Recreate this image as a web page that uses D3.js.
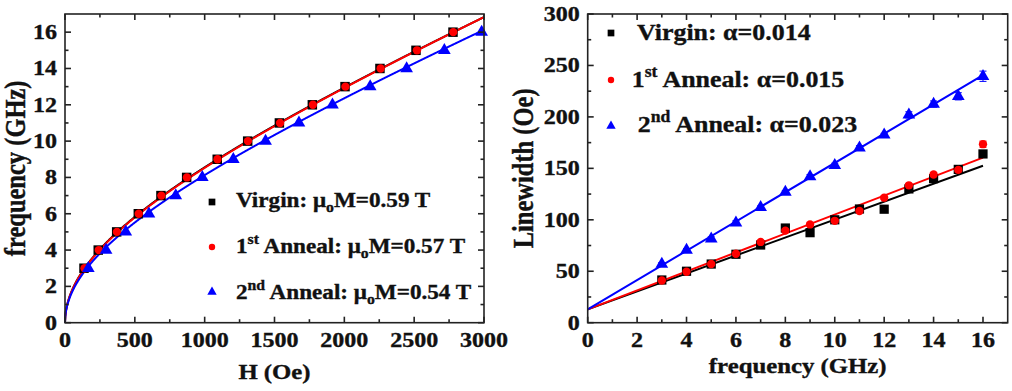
<!DOCTYPE html>
<html><head><meta charset="utf-8">
<script src="https://cdn.jsdelivr.net/npm/d3@7"></script>
<style>
body{margin:0;background:#fff}
svg{display:block}
text{font-family:"Liberation Serif","Times New Roman",serif;font-weight:bold;fill:#111;stroke:#111;stroke-width:0.35px}
</style>
</head><body>
<svg id="c" width="1012" height="391"></svg>
<script>
// ---------- Left panel data: resonance field H (Oe) at each frequency ----------
const freqGHz = [3,4,5,6,7,8,9,10,11,12,13,14,15,16];
const hVirgin  = [136,238,370,525,687,871,1090,1308,1535,1771,2005,2255,2513,2778];
const hAnneal1 = [140,242,372,528,690,873,1092,1310,1540,1775,2008,2260,2520,2780];
const hAnneal2 = [167,294,435,601,793,983,1205,1436,1675,1915,2185,2446,2716,2983];
// Kittel fit parameters: mu0*M (T) from legend, gyromagnetic ratio (GHz/Oe) of the fit
const fitMs    = [0.59, 0.57, 0.54];
const fitGamma = [0.003257, 0.003294, 0.003213];
const hTicks = [0,500,1000,1500,2000,2500,3000];
const fTicksL = [0,2,4,6,8,10,12,14,16];

// ---------- Right panel data: linewidth (Oe) vs frequency ----------
const lwVirgin  = [41.5,50,57,66.5,75.5,92,87.5,100,110.5,110.3,130,140,149,164];
const lwAnneal1 = [41,49.5,57,67,78.5,89.5,95.5,99,108.5,121.5,133.5,144,148.5,173.5];
const lwAnneal2 = [57,70.5,81.5,97,112,127,142,153,170,182.5,202,212.5,220,239.5];
const errVirgin  = [1,1,1,1,1,1,1,1,1,1,1,1,1,1.5];
const errAnneal1 = [1,1,1,1,1,1.5,1.5,1.5,1.5,1.5,1.5,2,2,3];
const errAnneal2 = [1.5,1.5,2,2,1.5,1.5,2,2,2,1.5,3,3,3.5,5];
const lwIntercept = [13,13,13];
const lwSlope     = [8.72,9.21,14.23];
const fTicksR = [0,2,4,6,8,10,12,14,16];
const lwTicks = [0,50,100,150,200,250,300];

const legendL = [
  [{t:"Virgin: μ"},{t:"o",sub:1},{t:"M=0.59 T"}],
  [{t:"1"},{t:"st",sup:1},{t:" Anneal: μ"},{t:"o",sub:1},{t:"M=0.57 T"}],
  [{t:"2"},{t:"nd",sup:1},{t:" Anneal: μ"},{t:"o",sub:1},{t:"M=0.54 T"}]
];
const legendR = [
  [{t:"Virgin: α=0.014"}],
  [{t:"1"},{t:"st",sup:1},{t:" Anneal: α=0.015"}],
  [{t:"2"},{t:"nd",sup:1},{t:" Anneal: α=0.023"}]
];
const colors = ["#000000","#ff0000","#0000ff"];

const svg = d3.select("#c");

function stext(g, x, y, parts, size, sx, anchor, rot, sy){
  const gg = g.append("g").attr("transform",
     `translate(${x},${y})` + (rot? ` rotate(${rot})` : "") + ` scale(${sx},${sy||1})`);
  const t = gg.append("text").attr("font-size", size).attr("text-anchor", anchor||"start");
  if (typeof parts === "string") { t.text(parts); return t; }
  let shift = 0;
  parts.forEach(p => {
    let target = 0, fs = size;
    if (p.sup) { target = -size*0.42; fs = size*0.68; }
    if (p.sub) { target = size*0.22; fs = size*0.68; }
    t.append("tspan").attr("dy", target - shift).attr("font-size", fs).text(p.t);
    shift = target;
  });
  return t;
}

function frame(x, y, xMaj, xMin, yMaj, yMin){
  const g = svg.append("g");
  const [x0,x1] = x.range(), [y0,y1] = y.range();
  const sw = 1.6, maj = 6, mn = 3.5;
  xMin.forEach(v => {
    const L = xMaj.includes(v)?maj:mn;
    g.append("line").attr("x1",x(v)).attr("x2",x(v)).attr("y1",y0).attr("y2",y0-L).attr("stroke","#222").attr("stroke-width",sw);
    g.append("line").attr("x1",x(v)).attr("x2",x(v)).attr("y1",y1).attr("y2",y1+L).attr("stroke","#222").attr("stroke-width",sw);
  });
  yMin.forEach(v => {
    const L = yMaj.includes(v)?maj:mn;
    g.append("line").attr("y1",y(v)).attr("y2",y(v)).attr("x1",x0).attr("x2",x0+L).attr("stroke","#222").attr("stroke-width",sw);
    g.append("line").attr("y1",y(v)).attr("y2",y(v)).attr("x1",x1).attr("x2",x1-L).attr("stroke","#222").attr("stroke-width",sw);
  });
  g.append("rect").attr("x",x0).attr("y",y1).attr("width",x1-x0).attr("height",y0-y1)
    .attr("fill","none").attr("stroke","#222").attr("stroke-width",sw);
  xMaj.forEach(v => stext(g, x(v), y0+24, String(v), 20, 1.2, "middle"));
  yMaj.forEach(v => stext(g, x0-8, y(v)+7, String(v), 20, 1.2, "end"));
}

// ================= LEFT PANEL =================
const xL = d3.scaleLinear().domain([0,3000]).range([65,484]);
const yL = d3.scaleLinear().domain([0,17]).range([322.7,14]);
const seriesL = [hVirgin, hAnneal1, hAnneal2];
const gL = svg.append("g");
const hSample = d3.range(0, 3000.01, 2);
const lineL = d3.line().x(d => xL(d[0])).y(d => yL(d[1]));
[0,1,2].forEach(i => {
  const pts = hSample.map(h => [h, fitGamma[i]*Math.sqrt(h*(h + fitMs[i]*10000))]);
  gL.append("path").attr("d", lineL(pts)).attr("fill","none").attr("stroke",colors[i]).attr("stroke-width",2);
});
const sym = [d3.symbolSquare, d3.symbolCircle, d3.symbolTriangle];
const symSize = [90, 55, 70];
[0,1,2].forEach(i => {
  seriesL[i].forEach((h, k) => {
    gL.append("path").attr("d", d3.symbol(sym[i], symSize[i])())
      .attr("transform", `translate(${xL(h)},${yL(freqGHz[k])})`).attr("fill", colors[i]);
  });
});
frame(xL, yL, hTicks, d3.range(0,3001,250), fTicksL, d3.range(0,17,1));
stext(svg, xL(1500), 379, "H (Oe)", 21, 1.18, "middle");
stext(svg, 25, yL(8.5), "frequency (GHz)", 24.5, 1, "middle", -90, 1.2);
// legend
const legLY = [202, 247, 292], legLT = [207, 253, 299];
[0,1,2].forEach(i => {
  svg.append("path").attr("d", d3.symbol(sym[i], [45,32,38][i])())
    .attr("transform", `translate(212,${legLY[i]})`).attr("fill", colors[i]);
  stext(svg, 236, legLT[i], legendL[i], 20.5, 1.13, "start");
});

// ================= RIGHT PANEL =================
const xR = d3.scaleLinear().domain([0,17]).range([587.7,1007.7]);
const yR = d3.scaleLinear().domain([0,300]).range([322.7,14]);
const seriesR = [lwVirgin, lwAnneal1, lwAnneal2];
const errR = [errVirgin, errAnneal1, errAnneal2];
const gR = svg.append("g");
[0,1,2].forEach(i => {
  gR.append("line").attr("x1", xR(0)).attr("y1", yR(lwIntercept[i]))
    .attr("x2", xR(16)).attr("y2", yR(lwIntercept[i] + lwSlope[i]*16))
    .attr("stroke", colors[i]).attr("stroke-width", 2);
});
[0,1,2].forEach(i => {
  seriesR[i].forEach((v, k) => {
    const cx = xR(freqGHz[k]), e = errR[i][k];
    gR.append("line").attr("x1",cx).attr("x2",cx).attr("y1",yR(v-e)).attr("y2",yR(v+e)).attr("stroke",colors[i]).attr("stroke-width",1);
    [v-e, v+e].forEach(w => gR.append("line").attr("x1",cx-3.5).attr("x2",cx+3.5).attr("y1",yR(w)).attr("y2",yR(w)).attr("stroke",colors[i]).attr("stroke-width",1));
    gR.append("path").attr("d", d3.symbol(sym[i], [85,55,70][i])())
      .attr("transform", `translate(${cx},${yR(v)})`).attr("fill", colors[i]);
  });
});
frame(xR, yR, fTicksR, d3.range(0,17,1), lwTicks, d3.range(0,301,25));
stext(svg, xR(8.5), 373, "frequency (GHz)", 21, 1.18, "middle");
stext(svg, 533, yR(150), "Linewidth (Oe)", 24.5, 1, "middle", -90, 1.2);
const legRY = [33, 80, 126], legRT = [40, 87, 132], legRX = [637, 631.7, 637.7];
[0,1,2].forEach(i => {
  svg.append("path").attr("d", d3.symbol(sym[i], [45,32,38][i])())
    .attr("transform", `translate(611,${legRY[i]})`).attr("fill", colors[i]);
  stext(svg, legRX[i], legRT[i], legendR[i], 24, 1.08, "start");
});
</script>
</body></html>
